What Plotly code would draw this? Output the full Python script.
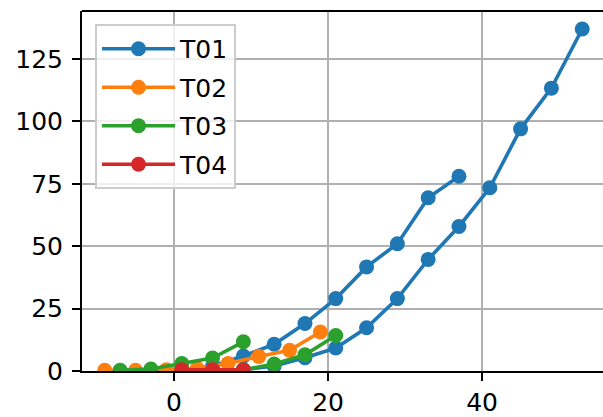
import plotly.graph_objects as go

# ---- data ----
t01a_x = [-7, -3, 1, 5, 9, 13, 17, 21, 25, 29, 33, 37]
t01a_y = [0.0, 0.2, 0.5, 2.0, 6.0, 10.7, 19.0, 29.0, 41.7, 51.0, 69.4, 78.0]
t01b_x = [-7, -3, 1, 5, 9, 13, 17, 21, 25, 29, 33, 37, 41, 45, 49, 53]
t01b_y = [0.0, 0.0, 0.0, 0.0, 0.5, 2.0, 5.3, 9.2, 17.3, 29.0, 44.7, 57.9, 73.4, 97.0, 113.3, 137.0]
t02_x = [-9, -5, -1, 3, 7, 11, 15, 19]
t02_y = [0.3, 0.3, 0.5, 1.0, 3.0, 5.8, 8.3, 15.6]
t03a_x = [-7, -3, 1, 5, 9]
t03a_y = [0.3, 0.8, 3.0, 5.2, 11.7]
t03b_x = [1, 5, 9, 13, 17, 21]
t03b_y = [0.0, 0.2, 0.5, 2.8, 6.5, 14.2]
t04_x = [1, 5, 9]
t04_y = [0.5, 0.5, 0.5]

y_ticks = [0, 25, 50, 75, 100, 125]
x_ticks = [0, 20, 40]

colors = {"T01": "#1f77b4", "T02": "#ff7f0e", "T03": "#2ca02c", "T04": "#d62728"}

series = [
    ("T01", t01a_x, t01a_y, True),
    ("T01", t01b_x, t01b_y, False),
    ("T02", t02_x, t02_y, True),
    ("T03", t03a_x, t03a_y, True),
    ("T03", t03b_x, t03b_y, False),
    ("T04", t04_x, t04_y, True),
]

fig = go.Figure()
for name, xs, ys, show in series:
    fig.add_trace(go.Scatter(
        x=xs, y=ys, mode="lines+markers", name=name,
        legendgroup=name, showlegend=show,
        line=dict(color=colors[name], width=3.6),
        marker=dict(color=colors[name], size=15),
        cliponaxis=True,
    ))

font = dict(family="DejaVu Sans", size=25, color="black")

fig.update_layout(
    width=603, height=417,
    margin=dict(l=82, r=0, t=11, b=44, pad=0),
    paper_bgcolor="white", plot_bgcolor="white",
    font=font,
    showlegend=True,
    legend=dict(
        x=0.025, y=0.964, xanchor="left", yanchor="top",
        bgcolor="rgba(255,255,255,0.8)",
        bordercolor="#cccccc", borderwidth=2,
        font=dict(family="DejaVu Sans", size=25, color="black"),
        tracegroupgap=3,
        itemwidth=73,
    ),
    xaxis=dict(
        range=[-11.95, 55.7],
        tickvals=x_ticks, ticktext=[str(v) for v in x_ticks],
        showgrid=True, gridcolor="#b0b0b0", gridwidth=2,
        zeroline=False,
        showline=True, linecolor="black", linewidth=2,
        ticks="outside", ticklen=8, tickwidth=2, tickcolor="black",
        tickfont=font,
    ),
    yaxis=dict(
        range=[0, 144.2],
        tickvals=y_ticks, ticktext=[str(v) for v in y_ticks],
        showgrid=True, gridcolor="#b0b0b0", gridwidth=2,
        zeroline=False,
        showline=True, linecolor="black", linewidth=2,
        ticks="outside", ticklen=8, tickwidth=2, tickcolor="black",
        tickfont=font,
        ticklabelstandoff=4,
    ),
)

# top spine
fig.add_shape(type="line", xref="paper", yref="paper", x0=0, x1=1, y0=1, y1=1,
              line=dict(color="black", width=2))

fig.write_html("out.html", config={"displayModeBar": False},
               post_script="document.body.style.margin='0';document.body.style.overflow='hidden';")
